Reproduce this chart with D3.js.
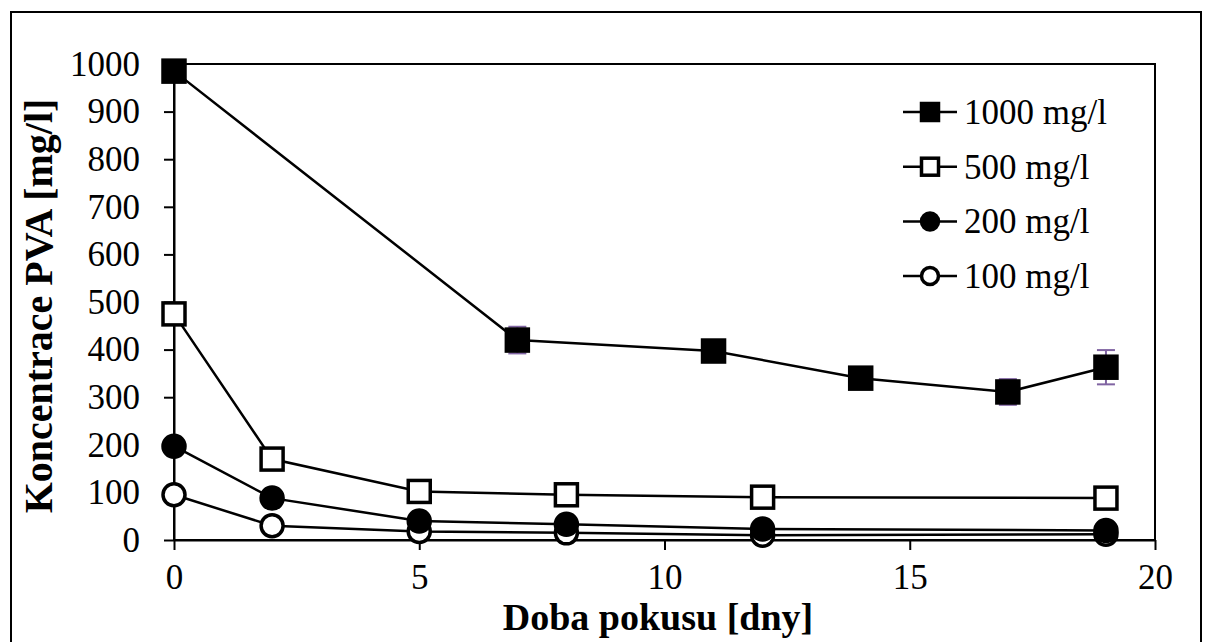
<!DOCTYPE html>
<html>
<head>
<meta charset="utf-8">
<title>Koncentrace PVA</title>
<script src="https://d3js.org/d3.v7.min.js"></script>
<style>
  body { margin: 0; background: #fff; }
  svg text { font-family: "Times New Roman", "Liberation Serif", Tinos, serif; }
</style>
</head>
<body>
<div id="chart"></div>
<script>
  // data
  const days1000 = [0, 7, 11, 14, 17, 19];
  const vals1000 = [985, 420, 397, 340, 311, 363];
  const err1000 = [6, 28, 8, 16, 27, 36];
  const daysLow = [0, 2, 5, 8, 12, 19];
  const vals500 = [475, 170, 102, 95, 90, 88];
  const vals200 = [197, 88, 40, 33, 23, 20];
  const vals100 = [95, 30, 18, 15, 10, 12];
  const seriesNames = ["1000 mg/l", "500 mg/l", "200 mg/l", "100 mg/l"];
  const xTicks = [0, 5, 10, 15, 20];
  const yTicks = [0, 100, 200, 300, 400, 500, 600, 700, 800, 900, 1000];

  const width = 1213;
  const height = 642;
  const plot = {left: 174, right: 1155, top: 64, bottom: 540};
  const serif = '"Times New Roman", "Liberation Serif", Tinos, serif';

  const svg = d3.select("#chart")
          .append("svg")
          .attr("width", width)
          .attr("height", height);

  // outer frame
  svg.append("rect")
          .attr("x", 11).attr("y", 12)
          .attr("width", 1190).attr("height", 660)
          .attr("fill", "none")
          .attr("stroke", "#000")
          .attr("stroke-width", 2);

  const x = d3.scaleLinear().domain([0, 20]).range([plot.left, plot.right]);
  const y = d3.scaleLinear().domain([0, 1000]).range([plot.bottom, plot.top]);

  // plot area border
  svg.append("rect")
          .attr("x", plot.left).attr("y", plot.top)
          .attr("width", plot.right - plot.left)
          .attr("height", plot.bottom - plot.top)
          .attr("fill", "none")
          .attr("stroke", "#000")
          .attr("stroke-width", 2);

  const xAxis = svg.append("g")
          .attr("transform", `translate(0,${plot.bottom})`)
          .call(d3.axisBottom(x).tickValues(xTicks).tickFormat(d3.format("d"))
                  .tickSize(10).tickSizeOuter(0).tickPadding(14));

  const yAxis = svg.append("g")
          .attr("transform", `translate(${plot.left},0)`)
          .call(d3.axisLeft(y).tickValues(yTicks).tickFormat(d3.format("d"))
                  .tickSize(10).tickSizeOuter(0).tickPadding(24));

  [xAxis, yAxis].forEach(g => {
    g.attr("font-family", serif).attr("font-size", 35);
    g.select(".domain").attr("stroke", "#000").attr("stroke-width", 2);
    g.selectAll(".tick line").attr("stroke", "#000").attr("stroke-width", 2);
    g.selectAll(".tick text").attr("fill", "#000");
  });

  svg.append("text")
          .attr("x", 658)
          .attr("y", 630)
          .attr("text-anchor", "middle")
          .attr("font-family", serif)
          .attr("font-size", 38)
          .attr("font-weight", "bold")
          .text("Doba pokusu [dny]");

  svg.append("text")
          .attr("transform", `translate(52,${(plot.top + plot.bottom) / 2 + 4}) rotate(-90)`)
          .attr("text-anchor", "middle")
          .attr("font-family", serif)
          .attr("font-size", 40)
          .attr("font-weight", "bold")
          .text("Koncentrace PVA [mg/l]");

  const series = [
    {name: seriesNames[0], xs: days1000, ys: vals1000, shape: "square", fill: "#000"},
    {name: seriesNames[1], xs: daysLow, ys: vals500, shape: "square", fill: "#fff"},
    {name: seriesNames[2], xs: daysLow, ys: vals200, shape: "circle", fill: "#000"},
    {name: seriesNames[3], xs: daysLow, ys: vals100, shape: "circle", fill: "#fff"}
  ];

  const line = d3.line().x(d => x(d[0])).y(d => y(d[1]));

  function drawMarker(g, shape, fill, cx, cy, s) {
    if (shape === "square") {
      g.append("rect")
              .attr("x", cx - s / 2).attr("y", cy - s / 2)
              .attr("width", s).attr("height", s)
              .attr("fill", fill)
              .attr("stroke", "#000")
              .attr("stroke-width", 3.5);
    } else {
      g.append("circle")
              .attr("cx", cx).attr("cy", cy)
              .attr("r", s / 2)
              .attr("fill", fill)
              .attr("stroke", "#000")
              .attr("stroke-width", 3.5);
    }
  }

  // error bars for 1000 mg/l
  const eb = svg.append("g").attr("stroke", "#8064a2").attr("stroke-width", 2);
  days1000.forEach((d, i) => {
    const cx = x(d);
    const y0 = y(vals1000[i] - err1000[i]);
    const y1 = y(vals1000[i] + err1000[i]);
    eb.append("line").attr("x1", cx).attr("x2", cx).attr("y1", y0).attr("y2", y1);
    eb.append("line").attr("x1", cx - 9).attr("x2", cx + 9).attr("y1", y0).attr("y2", y0);
    eb.append("line").attr("x1", cx - 9).attr("x2", cx + 9).attr("y1", y1).attr("y2", y1);
  });

  // draw from back to front: 100, 200, 500, 1000
  series.slice().reverse().forEach(s => {
    const pts = s.xs.map((d, i) => [d, s.ys[i]]);
    svg.append("path")
            .datum(pts)
            .attr("d", line)
            .attr("fill", "none")
            .attr("stroke", "#000")
            .attr("stroke-width", 2.5);
    const g = svg.append("g");
    pts.forEach(p => drawMarker(g, s.shape, s.fill, x(p[0]), y(p[1]), 22));
  });

  // legend
  const legend = svg.append("g");
  series.forEach((s, i) => {
    const ly = 112 + i * 54.7;
    legend.append("line")
            .attr("x1", 903).attr("x2", 957)
            .attr("y1", ly).attr("y2", ly)
            .attr("stroke", "#000").attr("stroke-width", 2.5);
    drawMarker(legend, s.shape, s.fill, 930, ly, 17);
    legend.append("text")
            .attr("x", 964).attr("y", ly + 12)
            .attr("font-family", serif)
            .attr("font-size", 35)
            .text(s.name);
  });
</script>
</body>
</html>
